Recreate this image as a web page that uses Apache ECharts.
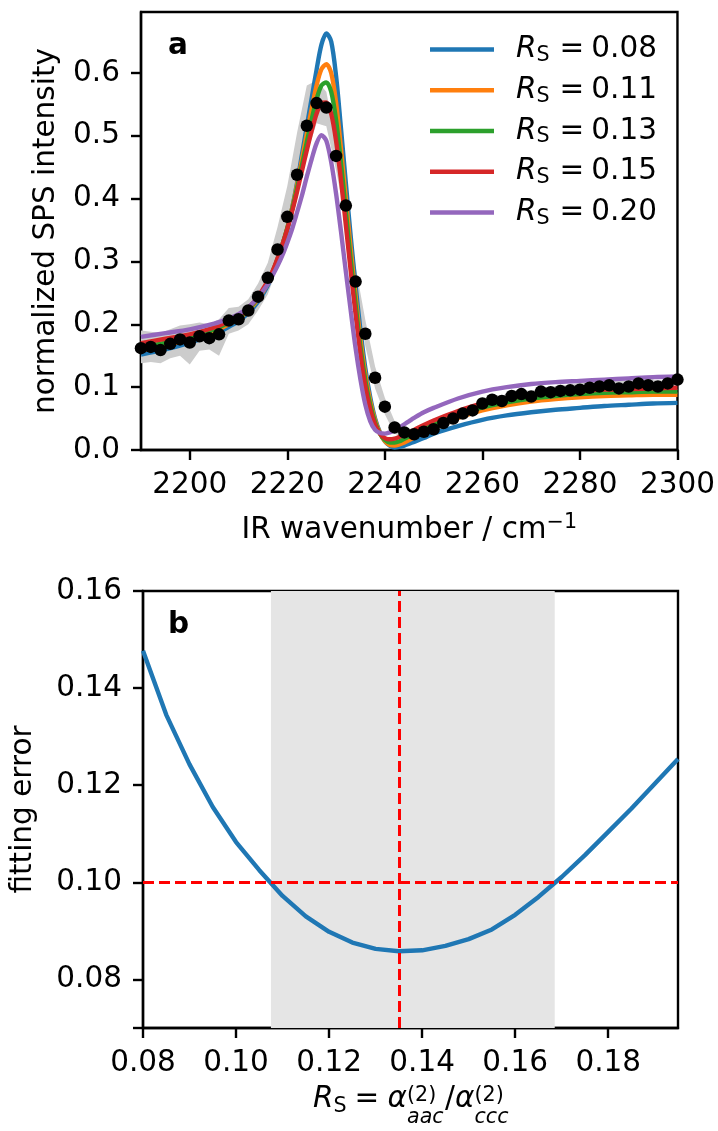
<!DOCTYPE html>
<html><head><meta charset="utf-8">
<script src="https://cdn.jsdelivr.net/npm/echarts@6/dist/echarts.min.js"></script>
<style>html,body{margin:0;padding:0;background:#fff}#c{width:718px;height:1131px}</style>
</head><body><div id="c"></div>
<script>
// ---------- panel a: measured spectrum ----------
const dotWavenumbers = [2190,2192,2194,2196,2198,2200,2202,2204,2206,2208,2210,2212,2214,2216,2218,2220,2222,2224,2226,2228,2230,2232,2234,2236,2238,2240,2242,2244,2246,2248,2250,2252,2254,2256,2258,2260,2262,2264,2266,2268,2270,2272,2274,2276,2278,2280,2282,2284,2286,2288,2290,2292,2294,2296,2298,2300];
const dotIntensity = [0.162,0.164,0.159,0.169,0.176,0.171,0.181,0.178,0.184,0.206,0.208,0.222,0.244,0.274,0.319,0.371,0.438,0.516,0.552,0.545,0.468,0.389,0.268,0.185,0.115,0.069,0.036,0.028,0.025,0.029,0.033,0.043,0.050,0.058,0.063,0.074,0.080,0.078,0.086,0.089,0.085,0.093,0.092,0.094,0.095,0.096,0.099,0.101,0.103,0.098,0.101,0.106,0.103,0.101,0.106,0.112];
const bandLower = [0.138,0.140,0.138,0.146,0.150,0.136,0.158,0.160,0.150,0.185,0.190,0.200,0.222,0.248,0.290,0.335,0.400,0.470,0.520,0.515,0.445,0.365,0.245,0.165,0.098,0.057,0.026,0.020,0.018,0.022,0.026,0.035,0.043,0.051,0.056,0.066,0.073,0.071,0.079,0.082,0.078,0.086,0.085,0.087,0.088,0.089,0.092,0.094,0.096,0.091,0.094,0.099,0.096,0.094,0.099,0.104];
const bandUpper = [0.190,0.188,0.186,0.192,0.198,0.200,0.203,0.200,0.208,0.226,0.228,0.240,0.265,0.298,0.355,0.420,0.505,0.580,0.588,0.570,0.490,0.412,0.292,0.207,0.133,0.083,0.046,0.036,0.033,0.037,0.041,0.050,0.057,0.065,0.071,0.081,0.088,0.086,0.094,0.097,0.093,0.101,0.100,0.104,0.103,0.108,0.106,0.112,0.111,0.114,0.109,0.114,0.116,0.109,0.114,0.121];

// ---------- panel a: model curves ----------
const modelWavenumbers = [2190,2195,2200,2205,2208,2210,2212,2214,2216,2217,2218,2219,2220,2221,2222,2223,2224,2225,2226,2227,2228,2229,2230,2231,2232,2233,2234,2235,2236,2237,2238,2239,2240,2241,2242,2243,2244,2245,2246,2248,2250,2255,2260,2265,2270,2275,2280,2285,2290,2295,2300];
const modelRs008 = [0.152,0.160,0.171,0.184,0.196,0.205,0.218,0.236,0.262,0.280,0.300,0.322,0.350,0.385,0.425,0.470,0.515,0.560,0.605,0.645,0.663,0.650,0.595,0.512,0.425,0.340,0.262,0.190,0.130,0.084,0.050,0.028,0.014,0.007,0.004,0.005,0.007,0.010,0.013,0.019,0.026,0.038,0.048,0.055,0.060,0.064,0.067,0.070,0.072,0.074,0.075];
const modelRs011 = [0.158,0.166,0.177,0.189,0.200,0.209,0.222,0.240,0.265,0.283,0.303,0.326,0.353,0.385,0.422,0.462,0.503,0.543,0.580,0.606,0.614,0.600,0.553,0.480,0.400,0.320,0.245,0.176,0.120,0.078,0.047,0.027,0.014,0.008,0.007,0.009,0.012,0.016,0.020,0.028,0.036,0.051,0.063,0.071,0.077,0.081,0.084,0.086,0.087,0.088,0.088];
const modelRs013 = [0.163,0.171,0.180,0.192,0.203,0.211,0.224,0.242,0.267,0.284,0.304,0.327,0.353,0.383,0.417,0.453,0.490,0.526,0.558,0.580,0.585,0.570,0.525,0.457,0.380,0.303,0.232,0.164,0.111,0.072,0.044,0.026,0.016,0.012,0.012,0.014,0.018,0.022,0.026,0.034,0.041,0.056,0.068,0.076,0.082,0.086,0.089,0.091,0.092,0.093,0.093];
const modelRs015 = [0.170,0.177,0.184,0.195,0.205,0.213,0.226,0.244,0.269,0.285,0.305,0.327,0.352,0.380,0.411,0.444,0.477,0.508,0.535,0.552,0.553,0.535,0.492,0.430,0.358,0.285,0.216,0.152,0.101,0.065,0.040,0.026,0.019,0.017,0.018,0.021,0.024,0.028,0.032,0.040,0.047,0.062,0.074,0.082,0.088,0.092,0.094,0.096,0.097,0.098,0.099];
const modelRs020 = [0.180,0.186,0.192,0.201,0.209,0.216,0.227,0.243,0.264,0.278,0.293,0.310,0.330,0.352,0.378,0.405,0.435,0.463,0.488,0.501,0.492,0.458,0.408,0.348,0.284,0.222,0.162,0.112,0.072,0.046,0.032,0.027,0.026,0.028,0.031,0.036,0.041,0.046,0.051,0.060,0.067,0.082,0.093,0.100,0.105,0.108,0.110,0.112,0.114,0.116,0.117];
const legendValues = ['0.08','0.11','0.13','0.15','0.20'];
const lineColors = ['#1f77b4','#ff7f0e','#2ca02c','#d62728','#9467bd'];
const topXTicks = [2200,2220,2240,2260,2280,2300];
const topYTicks = [0,0.1,0.2,0.3,0.4,0.5,0.6];

// ---------- panel b: fitting error ----------
const rsGrid = [0.080,0.085,0.090,0.095,0.100,0.105,0.110,0.115,0.120,0.125,0.130,0.135,0.140,0.145,0.150,0.155,0.160,0.165,0.170,0.175,0.180,0.185,0.190,0.195];
const fitError = [0.1477,0.1345,0.1243,0.1155,0.1083,0.1025,0.0972,0.0930,0.0898,0.0876,0.0863,0.0858,0.0860,0.0869,0.0883,0.0903,0.0933,0.0970,0.1011,0.1056,0.1104,0.1152,0.1203,0.1254];
const rsRange = [0.1075, 0.1685];
const bestRs = 0.135;
const errorThreshold = 0.10;
const botXTicks = [0.08,0.10,0.12,0.14,0.16,0.18];
const botYTicks = [0.07,0.08,0.10,0.12,0.14,0.16];
const botYLabels = [0.08,0.10,0.12,0.14,0.16];

const FONT = 'DejaVu Sans';
const FS = 29.5;
const SUB = 20.65;
const blk = '#000';

function axisCommon(extra) {
  return Object.assign({
    type: 'value',
    splitLine: {show: false},
    axisLine: {show: true, onZero: false, lineStyle: {color: blk, width: 2.4}},
    nameTextStyle: {fontFamily: FONT, fontSize: FS, color: blk},
  }, extra);
}
const tickStyle = vals => ({show: true, customValues: vals, length: 10, lineStyle: {color: blk, width: 2.4}});

const lineSeries = [modelRs008, modelRs011, modelRs013, modelRs015, modelRs020].map((arr, k) => ({
  type: 'line', name: 'rs' + k, xAxisIndex: 0, yAxisIndex: 0, z: 2,
  data: modelWavenumbers.map((x, i) => [x, arr[i]]),
  showSymbol: false, smooth: 0.3, clip: true,
  lineStyle: {color: lineColors[k], width: 4.4}, itemStyle: {color: lineColors[k]},
  emphasis: {disabled: true}
}));

const legendRich = {
  r: {fontFamily: FONT, fontStyle: 'italic', fontSize: FS, lineHeight: 36, padding: [0, 0, 0, 17], color: blk},
  s: {fontFamily: FONT, fontSize: SUB, lineHeight: 21, padding: [12, 0, 0, 0], color: blk},
  e: {fontFamily: FONT, fontSize: FS, lineHeight: 36, padding: [0, 7, 0, 10], color: blk},
  t: {fontFamily: FONT, fontSize: FS, lineHeight: 36, color: blk}
};

// math text pieces for the lower x-axis label
function mt(text, x, baseline, size, italic) {
  return {type: 'text', x: x, y: baseline - 0.3 * size, silent: true,
    style: {text: text, fontFamily: FONT, fontSize: size, fontStyle: italic ? 'italic' : 'normal',
      fill: blk, textAlign: 'left', textVerticalAlign: 'middle', verticalAlign: 'middle'}};
}

const option = {
  animation: false,
  backgroundColor: '#fff',
  grid: [
    {left: 141, top: 12, width: 537, height: 438, show: true, borderColor: blk, borderWidth: 2.4, backgroundColor: 'transparent'},
    {left: 141, top: 591, width: 537, height: 437, show: true, borderColor: blk, borderWidth: 2.4, backgroundColor: 'transparent'}
  ],
  xAxis: [
    axisCommon({gridIndex: 0, min: 2190, max: 2300,
      axisTick: tickStyle(topXTicks),
      axisLabel: {customValues: topXTicks, fontFamily: FONT, fontSize: FS, color: blk, margin: 20,
        formatter: v => String(Math.round(v))},
      name: '{t|IR wavenumber / cm}{u|\u22121}', nameLocation: 'middle', nameGap: 62,
      nameTextStyle: {rich: {
        t: {fontFamily: FONT, fontSize: FS, lineHeight: 36, color: blk},
        u: {fontFamily: FONT, fontSize: SUB, lineHeight: 21, padding: [0, 0, 15, 0], color: blk}
      }}}),
    axisCommon({gridIndex: 1, min: 0.08, max: 0.195,
      axisTick: tickStyle(botXTicks),
      axisLabel: {customValues: botXTicks, fontFamily: FONT, fontSize: FS, color: blk, margin: 20,
        formatter: v => v.toFixed(2)}})
  ],
  yAxis: [
    axisCommon({gridIndex: 0, min: 0, max: 0.697,
      axisTick: tickStyle(topYTicks),
      axisLabel: {customValues: topYTicks, fontFamily: FONT, fontSize: FS, color: blk, margin: 21,
        formatter: v => v.toFixed(1)},
      name: 'normalized SPS intensity', nameLocation: 'middle', nameGap: 80}),
    axisCommon({gridIndex: 1, min: 0.07, max: 0.16,
      axisTick: tickStyle(botYTicks),
      axisLabel: {customValues: botYLabels, fontFamily: FONT, fontSize: FS, color: blk, margin: 21,
        formatter: v => v.toFixed(2)},
      name: 'fitting error', nameLocation: 'middle', nameGap: 105})
  ],
  legend: {
    show: true, orient: 'vertical', left: 430, top: 33, itemWidth: 64, itemHeight: 4.4, itemGap: 7.75,
    icon: 'rect', selectedMode: false, padding: 0,
    data: lineSeries.map(s => s.name),
    formatter: name => '{r|R}{s|S}{e|=}{t|' + legendValues[+name.slice(2)] + '}',
    textStyle: {rich: legendRich, fontFamily: FONT, fontSize: FS, color: blk}
  },
  series: [
    {
      type: 'custom', xAxisIndex: 0, yAxisIndex: 0, z: 1, silent: true, clip: true,
      data: [[dotWavenumbers[0], bandLower[0]]],
      renderItem: function (params, api) {
        const pts = [];
        for (let i = 0; i < dotWavenumbers.length; i++) pts.push(api.coord([dotWavenumbers[i], bandUpper[i]]));
        for (let i = dotWavenumbers.length - 1; i >= 0; i--) pts.push(api.coord([dotWavenumbers[i], bandLower[i]]));
        return {type: 'polygon', shape: {points: pts}, style: {fill: '#cccccc'}};
      }
    },
    ...lineSeries,
    {
      type: 'scatter', name: 'data', xAxisIndex: 0, yAxisIndex: 0, z: 3,
      data: dotWavenumbers.map((x, i) => [x, dotIntensity[i]]),
      symbol: 'circle', symbolSize: 12.5, itemStyle: {color: blk, opacity: 1}, emphasis: {disabled: true}
    },
    {
      type: 'line', name: 'range', xAxisIndex: 1, yAxisIndex: 1, z: 0, silent: true,
      data: [[rsRange[0], errorThreshold]], showSymbol: false, lineStyle: {opacity: 0},
      markArea: {silent: true, itemStyle: {color: '#e5e5e5'},
        data: [[{xAxis: rsRange[0]}, {xAxis: rsRange[1]}]]}
    },
    {
      type: 'line', name: 'fit', xAxisIndex: 1, yAxisIndex: 1, z: 2,
      data: rsGrid.map((x, i) => [x, fitError[i]]),
      showSymbol: false, lineStyle: {color: '#1f77b4', width: 4.4}, emphasis: {disabled: true}
    },
    {
      type: 'line', name: 'marks', xAxisIndex: 1, yAxisIndex: 1, z: 4, silent: true,
      data: [[bestRs, errorThreshold]], showSymbol: false, lineStyle: {opacity: 0},
      markLine: {silent: true, symbol: 'none', precision: 5, label: {show: false},
        lineStyle: {color: '#ff0000', type: [11, 5], width: 3},
        data: [{xAxis: bestRs}, {yAxis: errorThreshold}]}
    }
  ],
  graphic: [
    {type: 'text', x: 168, y: 46, silent: true,
      style: {text: 'a', fontFamily: FONT, fontWeight: 'bold', fontSize: FS, fill: blk, textVerticalAlign: 'middle', verticalAlign: 'middle'}},
    {type: 'text', x: 168, y: 625, silent: true,
      style: {text: 'b', fontFamily: FONT, fontWeight: 'bold', fontSize: FS, fill: blk, textVerticalAlign: 'middle', verticalAlign: 'middle'}},
    mt('R', 313, 1108, FS, true),
    mt('S', 333.5, 1113, SUB, false),
    mt('=', 354.5, 1108, FS, false),
    mt('\u03b1', 387.5, 1108, FS, true),
    mt('(2)', 407, 1102, SUB, false),
    mt('aac', 407, 1124, SUB, true),
    mt('/', 445, 1108, FS, false),
    mt('\u03b1', 455, 1108, FS, true),
    mt('(2)', 474.5, 1102, SUB, false),
    mt('ccc', 474.5, 1124, SUB, true)
  ]
};
const chart = echarts.init(document.getElementById('c'));
chart.setOption(option);
</script>
</body></html>
